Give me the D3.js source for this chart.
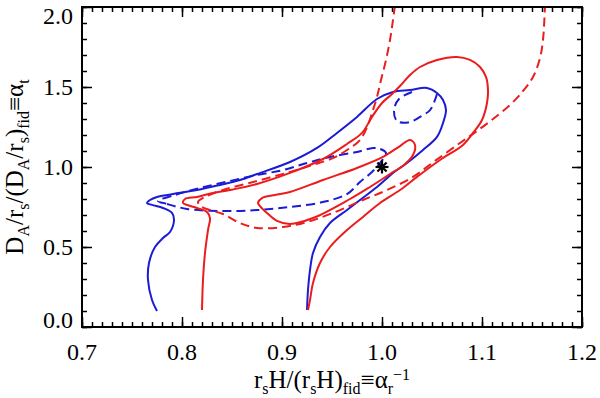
<!DOCTYPE html>
<html>
<head>
<meta charset="utf-8">
<script src="https://cdn.jsdelivr.net/npm/d3@7"></script>
<style>
  body { margin: 0; background: #fff; }
  text { font-family: "Liberation Serif", "DejaVu Serif", serif; fill: #000; }
</style>
</head>
<body>
<div id="chart"></div>
<script>
// contour lines, [alpha_r^-1, alpha_t]
var blueOuter = [
  [0.775, 0.100], [0.770, 0.169], [0.766, 0.294], [0.767, 0.400], [0.773, 0.500],
  [0.781, 0.556], [0.788, 0.594], [0.792, 0.669], [0.790, 0.713], [0.781, 0.744],
  [0.770, 0.763], [0.765, 0.775], [0.768, 0.794], [0.775, 0.813], [0.791, 0.831],
  [0.815, 0.856], [0.838, 0.888], [0.858, 0.919], [0.875, 0.956], [0.908, 1.031],
  [0.935, 1.119], [0.955, 1.213], [0.975, 1.313], [0.995, 1.425], [1.011, 1.469],
  [1.028, 1.481], [1.045, 1.494], [1.055, 1.463], [1.061, 1.419], [1.064, 1.356],
  [1.061, 1.275], [1.055, 1.188], [1.041, 1.106], [1.025, 1.025], [1.011, 0.963],
  [0.995, 0.875], [0.978, 0.794], [0.965, 0.731], [0.948, 0.650], [0.938, 0.563],
  [0.931, 0.463], [0.928, 0.356], [0.926, 0.231], [0.925, 0.106]
];
var blueInner = [
  [0.776, 0.788], [0.785, 0.769], [0.805, 0.738], [0.841, 0.725], [0.875, 0.731],
  [0.908, 0.750], [0.941, 0.781], [0.965, 0.831], [0.978, 0.906], [0.990, 0.969],
  [0.998, 1.025], [1.004, 1.088], [0.998, 1.113], [0.991, 1.119], [0.975, 1.094],
  [0.948, 1.063], [0.925, 1.025], [0.901, 0.981], [0.875, 0.950], [0.848, 0.913],
  [0.818, 0.869], [0.793, 0.825]
];
var blueIsland = [
  [1.030, 1.469], [1.017, 1.425], [1.012, 1.356], [1.015, 1.288], [1.026, 1.278],
  [1.038, 1.313], [1.048, 1.356], [1.053, 1.419], [1.055, 1.456]
];
var redOuter = [
  [0.820, 0.106], [0.821, 0.294], [0.823, 0.463], [0.826, 0.606], [0.828, 0.681],
  [0.825, 0.719], [0.815, 0.744], [0.805, 0.763], [0.801, 0.775], [0.803, 0.800],
  [0.815, 0.813], [0.831, 0.838], [0.848, 0.856], [0.875, 0.894], [0.908, 0.963],
  [0.941, 1.050], [0.965, 1.144], [0.980, 1.213], [0.990, 1.313], [1.000, 1.400],
  [1.010, 1.456], [1.018, 1.506], [1.028, 1.575], [1.038, 1.625], [1.055, 1.669],
  [1.075, 1.688], [1.088, 1.669], [1.098, 1.625], [1.104, 1.563], [1.106, 1.481],
  [1.105, 1.400], [1.100, 1.294], [1.091, 1.213], [1.081, 1.138], [1.058, 1.044],
  [1.035, 0.938], [1.018, 0.856], [0.998, 0.775], [0.981, 0.688], [0.965, 0.606],
  [0.948, 0.500], [0.938, 0.400], [0.931, 0.275], [0.928, 0.169], [0.926, 0.106]
];
var redInner = [
  [0.876, 0.775], [0.880, 0.806], [0.893, 0.825], [0.908, 0.844], [0.941, 0.919],
  [0.975, 0.994], [1.001, 1.063], [1.018, 1.131], [1.028, 1.169], [1.033, 1.138],
  [1.031, 1.075], [1.022, 1.013], [1.008, 0.956], [0.988, 0.875], [0.968, 0.800],
  [0.931, 0.681], [0.908, 0.644], [0.895, 0.663], [0.885, 0.713], [0.878, 0.756]
];
var redDashed = [
  [1.013, 2.010], [1.011, 1.919], [1.008, 1.794], [1.004, 1.669], [0.999, 1.544],
  [0.995, 1.438], [0.991, 1.356], [0.986, 1.263], [0.978, 1.169], [0.965, 1.106],
  [0.951, 1.056], [0.931, 1.013], [0.908, 0.969], [0.875, 0.913], [0.841, 0.856],
  [0.823, 0.813], [0.816, 0.781], [0.820, 0.750], [0.828, 0.731], [0.841, 0.706],
  [0.858, 0.650], [0.875, 0.619], [0.901, 0.625], [0.925, 0.656], [0.951, 0.713],
  [0.981, 0.794], [1.005, 0.856], [1.031, 0.938], [1.053, 1.038], [1.078, 1.150],
  [1.095, 1.225], [1.111, 1.300], [1.128, 1.388], [1.141, 1.475], [1.151, 1.563],
  [1.158, 1.681], [1.161, 1.794], [1.163, 2.010]
];
var fiducial = [1.0, 1.0];

var xTicks = [0.7, 0.8, 0.9, 1.0, 1.1, 1.2];
var yTicks = [0.0, 0.5, 1.0, 1.5, 2.0];

var blue = "#1b1bd6", red = "#ec1c1c";

var margin = {top: 7, right: 18, bottom: 71, left: 82}
  , width = 600 - margin.left - margin.right
  , height = 398 - margin.top - margin.bottom;

var x = d3.scaleLinear().domain([0.7, 1.2]).range([0, width]);
var y = d3.scaleLinear().domain([0, 2]).range([height, 0]);

var chart = d3.select('#chart')
  .append('svg')
  .attr('width', 600)
  .attr('height', 398);

var main = chart.append('g')
  .attr('transform', 'translate(' + margin.left + ',' + margin.top + ')');

main.append('clipPath').attr('id', 'clip')
  .append('rect').attr('width', width).attr('height', height);

var plot = main.append('g').attr('clip-path', 'url(#clip)');

var line = d3.line()
  .x(function(d) { return x(d[0]); })
  .y(function(d) { return y(d[1]); })
  .curve(d3.curveCatmullRom.alpha(0.5));

var loop = d3.line()
  .x(function(d) { return x(d[0]); })
  .y(function(d) { return y(d[1]); })
  .curve(d3.curveCatmullRomClosed.alpha(0.5));

function draw(data, gen, colour, dashed) {
  plot.append('path')
    .datum(data)
    .attr('d', gen)
    .attr('fill', 'none')
    .attr('stroke', colour)
    .attr('stroke-width', 2)
    .attr('stroke-linejoin', 'round')
    .attr('stroke-dasharray', dashed ? '9,5' : null);
}

draw(blueOuter, line, blue, false);
draw(blueInner, loop, blue, true);
draw(blueIsland, line, blue, true);
draw(redOuter, line, red, false);
draw(redInner, loop, red, false);
draw(redDashed, line, red, true);

// asterisk at the fiducial point
var star = main.append('g')
  .attr('transform', 'translate(' + x(fiducial[0]) + ',' + y(fiducial[1]) + ')');
[0, 45, 90, 135].forEach(function(a) {
  var r = 6.5, t = a * Math.PI / 180;
  star.append('line')
    .attr('x1', -r * Math.cos(t)).attr('y1', -r * Math.sin(t))
    .attr('x2', r * Math.cos(t)).attr('y2', r * Math.sin(t))
    .attr('stroke', '#000').attr('stroke-width', 2.2);
});

// ticks on all four sides, pointing in
function ticks(axis, tr) {
  var g = main.append('g').attr('transform', tr).call(axis);
  g.select('.domain').remove();
  g.selectAll('.tick line').attr('stroke', '#000').attr('stroke-width', 1.5);
  g.selectAll('.tick text').remove();
}
var xMinor = d3.range(70, 121).map(function(v) { return v / 100; });
var yMinor = d3.range(0, 21).map(function(v) { return v / 10; });

ticks(d3.axisBottom(x).tickValues(xMinor).tickSize(-5), 'translate(0,' + height + ')');
ticks(d3.axisBottom(x).tickValues(xTicks).tickSize(-10), 'translate(0,' + height + ')');
ticks(d3.axisTop(x).tickValues(xMinor).tickSize(-5), 'translate(0,0)');
ticks(d3.axisTop(x).tickValues(xTicks).tickSize(-10), 'translate(0,0)');
ticks(d3.axisLeft(y).tickValues(yMinor).tickSize(-5), 'translate(0,0)');
ticks(d3.axisLeft(y).tickValues(yTicks).tickSize(-10), 'translate(0,0)');
ticks(d3.axisRight(y).tickValues(yMinor).tickSize(-5), 'translate(' + width + ',0)');
ticks(d3.axisRight(y).tickValues(yTicks).tickSize(-10), 'translate(' + width + ',0)');

main.append('rect')
  .attr('width', width).attr('height', height)
  .attr('fill', 'none').attr('stroke', '#000').attr('stroke-width', 2);

var fmt = d3.format('.1f');

main.selectAll('.xlab')
  .data(xTicks)
  .enter().append('text')
  .attr('x', function(d) { return x(d); })
  .attr('y', height + 33)
  .attr('text-anchor', 'middle')
  .style('font-size', '24px')
  .text(fmt);

main.selectAll('.ylab')
  .data(yTicks)
  .enter().append('text')
  .attr('x', -9)
  .attr('y', function(d) { return Math.max(9, Math.min(height - 7, y(d))); })
  .attr('dy', '0.34em')
  .attr('text-anchor', 'end')
  .style('font-size', '24px')
  .text(fmt);

// axis titles with sub/superscripts
function title(g, parts) {
  var t = g.append('text').attr('text-anchor', 'middle').style('font-size', '25px');
  var shift = 0;
  parts.forEach(function(p) {
    var want = p[1] === 'sub' ? 6 : p[1] === 'sup' ? -8 : 0;
    t.append('tspan')
      .attr('dy', want - shift)
      .style('font-size', p[1] ? '16px' : null)
      .text(p[0]);
    shift = want;
  });
  return t;
}

var xt = main.append('g')
  .attr('transform', 'translate(' + (width / 2) + ',' + (height + 61) + ')');
title(xt, [['r'], ['s', 'sub'], ['H/(r'], ['s', 'sub'], ['H)'], ['fid', 'sub'],
  ['\u2261\u03b1'], ['r', 'sub'], ['\u22121', 'sup']]);

var yt = main.append('g')
  .attr('transform', 'translate(' + (23 - margin.left) + ',' + (height / 2) + ') rotate(-90)');
title(yt, [['D'], ['A', 'sub'], ['/r'], ['s', 'sub'], ['/(D'], ['A', 'sub'], ['/r'],
  ['s', 'sub'], [')'], ['fid', 'sub'], ['\u2261\u03b1'], ['t', 'sub']]);
</script>
</body>
</html>
